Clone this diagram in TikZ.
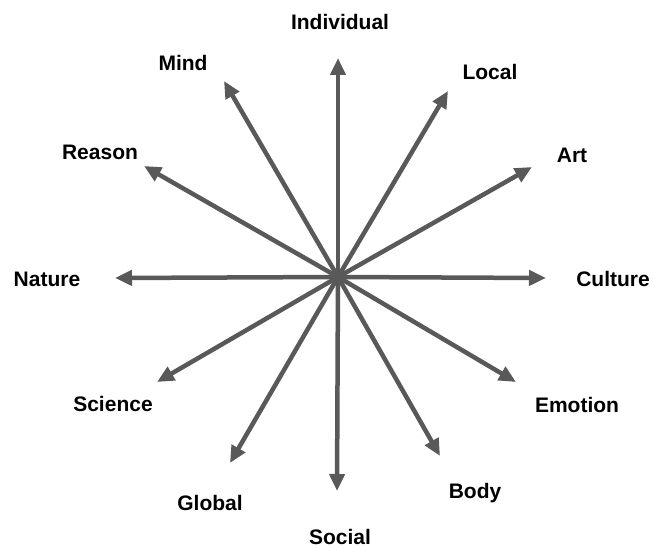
\documentclass[tikz,border=0pt]{standalone}
\usepackage{fontspec}
\setmainfont{Liberation Sans}
\usetikzlibrary{arrows.meta}
\definecolor{arrgray}{HTML}{595959}
\tikzset{
  lbl/.style={font=\fontsize{21}{25}\selectfont\bfseries, text=black, inner sep=0pt},
  arr/.style={-{Triangle[length=17pt,width=15pt]}, line width=4.5pt, draw=arrgray}
}
\begin{document}
\begin{tikzpicture}[x=1pt,y=-1pt]
            \useasboundingbox (0,0) rectangle (652,548);
            \coordinate (c) at (338,277);
            \foreach \n/\tx/\ty/\lx/\ly/\txt in {ind/338/58/340/22/Individual, loc/448/91/490/72/Local, art/532/167/572/155/Art,
                cul/546/278/613/279/Culture, emo/516/382/577/405/Emotion, bod/440/456/475/493/Body,
                soc/337/491/340/537/Social, glo/230/463/210/503/Global, sci/157/382/113/404/Science,
                nat/115/278/47/279/Nature, rea/144/166/100/152/Reason, min/224/81/183/63/Mind}
            {
            \coordinate (\n tip) at (\tx,\ty);
            \node[lbl] (\n) at (\lx,\ly) {\txt};
            \draw[arr] (c) -- (\n tip);
            }
        \end{tikzpicture}
\end{document}
